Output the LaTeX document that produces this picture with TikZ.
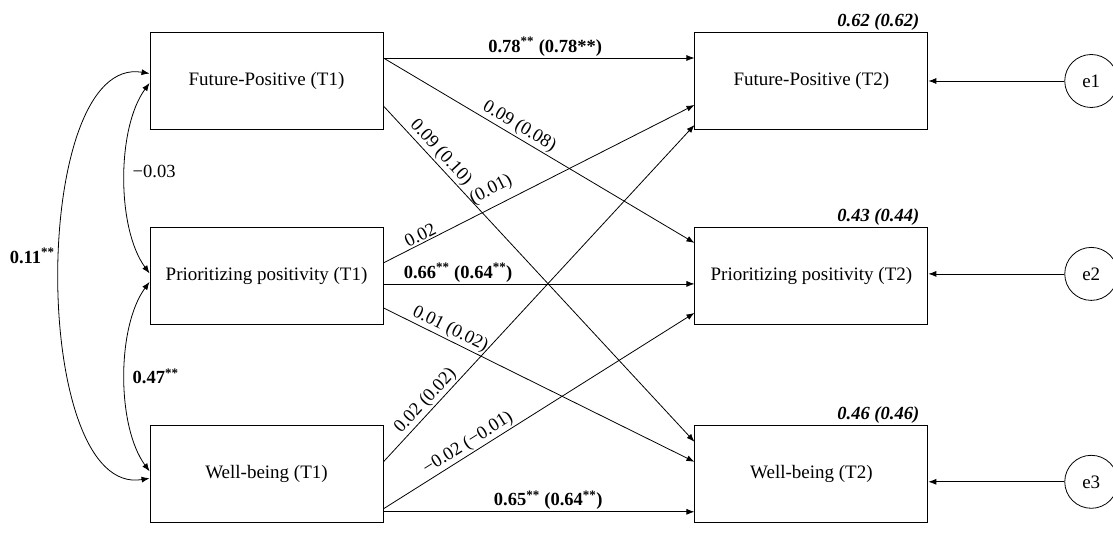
\documentclass[tikz,border=0pt]{standalone}
\usepackage{fontspec}
\setmainfont{Liberation Serif}
\usetikzlibrary{arrows.meta,positioning}

\begin{document}
\begin{tikzpicture}[
  x=1pt, y=1pt,
  node distance=97pt and 311pt,
  var/.style={draw, line width=0.9pt, minimum width=233pt, minimum height=97pt,
    inner sep=2pt, font=\fontsize{19}{22}\selectfont},
  err/.style={draw, circle, line width=0.8pt, minimum size=53pt, inner sep=0pt,
    font=\fontsize{19}{22}\selectfont},
  arr/.style={->, line width=0.8pt},
  cov/.style={<->, line width=0.8pt},
  lbl/.style={font=\fontsize{18.5}{21}\selectfont, inner sep=1.5pt},
  blbl/.style={lbl, font=\fontsize{18.5}{21}\selectfont\bfseries},
  rsq/.style={font=\fontsize{18.5}{21}\selectfont\bfseries\itshape, inner sep=1pt},
  >={Latex[length=8pt,width=6pt]}]
\useasboundingbox (0,0) rectangle (1113,539);
\node[var] (fpA) at (266.5,458) {Future-Positive (T1)};
\node[var, below=of fpA] (ppA) {Prioritizing positivity (T1)};
\node[var, below=100pt of ppA] (wbA) {Well-being (T1)};
\node[var, right=of fpA] (fpB) {Future-Positive (T2)};
\node[var, right=of ppA] (ppB) {Prioritizing positivity (T2)};
\node[var, right=of wbA] (wbB) {Well-being (T2)};
\node[err, right=136pt of fpB] (e1) {e1};
\node[err, right=136pt of ppB, yshift=2pt] (e2) {e2};
\node[err, right=136pt of wbB, yshift=-8pt] (e3) {e3};
\node[rsq, above left=0pt and 8pt of fpB.north east] (r2fp) {0.62 (0.62)};
\node[rsq, above left=0pt and 8pt of ppB.north east] (r2pp) {0.43 (0.44)};
\node[rsq, above left=0pt and 8pt of wbB.north east] (r2wb) {0.46 (0.46)};
\draw[arr] ([yshift=23pt]fpA.east) -- node[blbl, above, pos=.52] {0.78\textsuperscript{**} (0.78**)} ([yshift=23pt]fpB.west);
\draw[arr] ([yshift=23pt]fpA.east) -- node[lbl, sloped, above, pos=.42] {0.09 (0.08)} ([yshift=33pt]ppB.west);
\draw[arr] ([yshift=-25pt]fpA.east) -- node[lbl, sloped, above, pos=.16] {0.09 (0.10)} ([yshift=32pt]wbB.west);
\draw[arr] ([yshift=13pt]ppA.east) -- node[lbl, sloped, above, pos=.13] {0.02}
  node[lbl, sloped, above=6pt, pos=.37] {(0.01)} ([yshift=-24pt]fpB.west);
\draw[arr] ([yshift=-8pt]ppA.east) -- node[blbl, above, pos=.24] {0.66\textsuperscript{**} (0.64\textsuperscript{**})} ([yshift=-8pt]ppB.west);
\draw[arr] ([yshift=-32pt]ppA.east) -- node[lbl, sloped, above, pos=.2] {0.01 (0.02)} ([yshift=12pt]wbB.west);
\draw[arr] ([yshift=12pt]wbA.east) -- node[lbl, sloped, above, pos=.16] {0.02 (0.02)} ([yshift=-44pt]fpB.west);
\draw[arr] ([yshift=-35pt]wbA.east) -- node[lbl, sloped, above, pos=.29] {−0.02 (−0.01)} ([yshift=-37pt]ppB.west);
\draw[arr] ([yshift=-38pt]wbA.east) -- node[blbl, above, pos=.53] {0.65\textsuperscript{**} (0.64\textsuperscript{**})} ([yshift=-38pt]wbB.west);
\draw[arr] (e1) -- (fpB);
\draw[arr] (e2.west) -- (e2.west -| ppB.east);
\draw[arr] (e3.west) -- (e3.west -| wbB.east);
\draw[cov] ([yshift=7.5pt]fpA.west) .. controls +(-120,20) and +(-120,-20) ..
  node[blbl, left=3pt, yshift=20pt] {0.11\textsuperscript{**}} ([yshift=-4.5pt]wbA.west);
\draw[cov] ([yshift=-2pt]fpA.west) .. controls +(-33,-45) and +(-33,45) ..
  node[lbl, right=6pt, yshift=7pt] {−0.03} ([yshift=2.5pt]ppA.west);
\draw[cov] ([yshift=-6pt]ppA.west) .. controls +(-33,-45) and +(-33,45) ..
  node[blbl, right=6pt] {0.47\textsuperscript{**}} ([yshift=2.5pt]wbA.west);
\end{tikzpicture}
\end{document}
